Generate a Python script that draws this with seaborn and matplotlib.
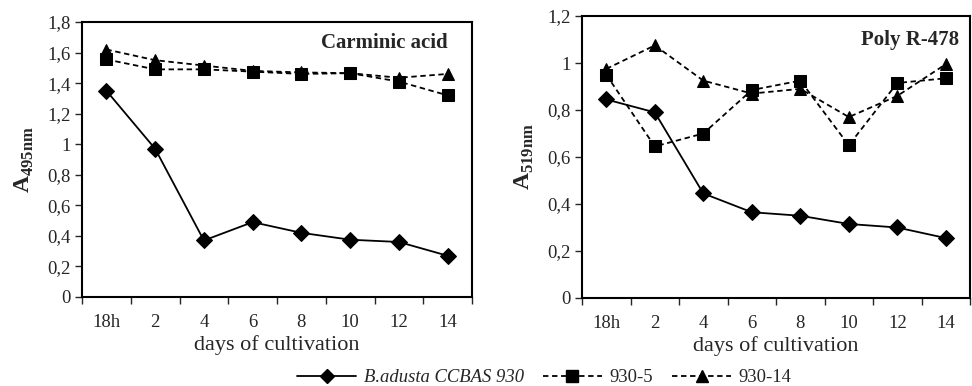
import matplotlib
matplotlib.use("Agg")
import matplotlib.pyplot as plt
from matplotlib.ticker import FuncFormatter, MultipleLocator, FixedLocator
from matplotlib.lines import Line2D
import seaborn as sns
import pandas as pd

days = ["18h", "2", "4", "6", "8", "10", "12", "14"]
strains = ["B.adusta CCBAS 930", "930-5", "930-14"]

# Carminic acid, A495nm
carminic_wt = [1.35, 0.97, 0.37, 0.49, 0.42, 0.375, 0.36, 0.27]
carminic_5 = [1.555, 1.49, 1.49, 1.475, 1.46, 1.465, 1.41, 1.32]
carminic_14 = [1.62, 1.55, 1.515, 1.48, 1.47, 1.465, 1.435, 1.46]

# Poly R-478, A519nm
poly_wt = [0.845, 0.79, 0.445, 0.365, 0.35, 0.315, 0.30, 0.255]
poly_5 = [0.95, 0.645, 0.70, 0.885, 0.925, 0.65, 0.915, 0.935]
poly_14 = [0.975, 1.075, 0.925, 0.87, 0.89, 0.77, 0.86, 0.995]

sns.set_style("white")
plt.rcParams["font.family"] = ["Liberation Serif", "DejaVu Serif"]
plt.rcParams["mathtext.fontset"] = "custom"
plt.rcParams["mathtext.rm"] = "Liberation Serif"
plt.rcParams["mathtext.bf"] = "Liberation Serif:bold"

markers = {strains[0]: "D", strains[1]: "s", strains[2]: "^"}
dashes = {strains[0]: "", strains[1]: (3, 2), strains[2]: (3, 2)}
palette = {s: "black" for s in strains}


def make_df(wt, s5, s14):
    rows = []
    for name, vals in zip(strains, [wt, s5, s14]):
        for i, v in enumerate(vals):
            rows.append({"pos": i, "day": days[i], "strain": name, "value": v})
    return pd.DataFrame(rows)


def comma(v, _):
    s = f"{v:.1f}".rstrip("0").rstrip(".")
    return s.replace(".", ",")


fig = plt.figure(figsize=(9.72, 3.86), dpi=100)
ax1 = fig.add_axes([0.0844, 0.2306, 0.4012, 0.7124])
ax2 = fig.add_axes([0.5988, 0.2280, 0.3992, 0.7305])

panels = [
    (ax1, make_df(carminic_wt, carminic_5, carminic_14), 1.8, "495nm", "Carminic acid", 0.938, 0.924),
    (ax2, make_df(poly_wt, poly_5, poly_14), 1.2, "519nm", "Poly R-478", 0.972, 0.915),
]

for ax, df, ymax, sub, title, tx, ty in panels:
    sns.lineplot(data=df, x="pos", y="value", hue="strain", style="strain",
                 markers=markers, dashes=dashes, palette=palette,
                 linewidth=1.3, markersize=8, markeredgecolor="black",
                 legend=False, ax=ax)
    ax.set_xlim(-0.5, 7.5)
    ax.set_ylim(0, ymax)
    ax.xaxis.set_major_locator(FixedLocator(range(len(days))))
    ax.set_xticklabels(days)
    ax.xaxis.set_minor_locator(FixedLocator([i - 0.5 for i in range(len(days) + 1)]))
    ax.yaxis.set_major_locator(MultipleLocator(0.2))
    ax.yaxis.set_major_formatter(FuncFormatter(comma))
    ax.tick_params(axis="x", which="major", length=0, labelsize=13.5, pad=12)
    ax.tick_params(axis="x", which="minor", length=5, width=1, direction="out", bottom=True)
    ax.tick_params(axis="y", length=5, width=1, direction="out", left=True, labelsize=13.5, pad=3)
    for sp in ax.spines.values():
        sp.set_linewidth(1.5)
        sp.set_color("black")
    ax.set_xlabel("days of cultivation", fontsize=16, labelpad=3)
    ax.set_ylabel(r"$\mathbf{A}_{\mathbf{" + sub + "}}$", fontsize=17, labelpad=8)
    ax.text(tx, ty, title, transform=ax.transAxes, ha="right", va="center",
            fontsize=15, fontweight="bold")

handles = [
    Line2D([], [], color="black", lw=1.3, marker="D", markersize=7),
    Line2D([], [], color="black", lw=1.3, ls=(0, (3, 2)), marker="s", markersize=8),
    Line2D([], [], color="black", lw=1.3, ls=(0, (3, 2)), marker="^", markersize=8),
]
leg = fig.legend(handles, strains, loc="center", bbox_to_anchor=(0.56, 0.022), ncol=3,
                 frameon=False, fontsize=13.4, handlelength=3.2, columnspacing=1.0,
                 handletextpad=0.4, borderpad=0)
leg.get_texts()[0].set_fontstyle("italic")

fig.savefig("out.png", dpi=100)
